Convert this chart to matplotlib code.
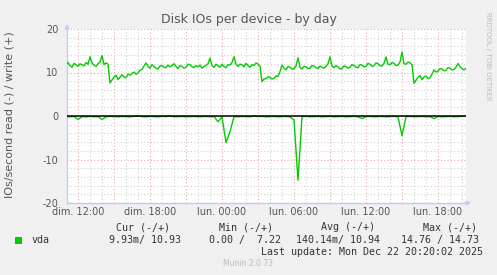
import numpy as np
import matplotlib

matplotlib.use("Agg")

import matplotlib.pyplot as plt

# hours since Sunday 00:00; writes every 10 min, reads every 20 min
SAMPLE_START = 11.0
WRITE_STEP = 1 / 6
READ_STEP = 1 / 3

writes = [
    11.9, 12.3, 11.6, 11.2, 12.1, 11.8, 11.4, 12.0, 11.8, 11.5, 12.3, 11.9, 13.6, 12.2, 11.7, 11.4, 12.0, 12.4, 13.9, 11.8,
    12.2, 11.9, 7.6, 8.3, 8.9, 9.4, 8.4, 8.9, 9.5, 9.0, 8.8, 9.6, 9.4, 9.8, 10.1, 9.6, 9.9, 10.5, 10.7, 11.5,
    12.2, 11.4, 11.0, 11.8, 11.4, 11.0, 10.8, 11.5, 11.6, 11.2, 11.1, 11.7, 11.3, 11.6, 12.0, 11.4, 10.9, 11.6, 11.4, 11.0,
    11.2, 11.9, 11.8, 11.3, 11.1, 11.6, 11.3, 11.7, 11.0, 11.4, 11.6, 12.0, 13.3, 11.6, 11.2, 11.9, 11.5, 11.2, 11.9, 11.4,
    11.1, 11.8, 11.7, 12.3, 13.6, 11.9, 11.4, 11.9, 11.8, 11.3, 12.1, 11.6, 11.2, 11.8, 11.6, 12.2, 11.9, 11.5, 7.9, 8.5,
    8.6, 9.0, 8.9, 8.5, 8.7, 9.2, 9.1, 10.2, 11.7, 11.0, 10.6, 11.4, 11.2, 10.8, 10.9, 11.5, 13.4, 11.2, 10.8, 11.4,
    11.3, 10.9, 11.0, 11.6, 11.5, 11.1, 10.9, 11.5, 11.2, 11.0, 11.4, 12.0, 13.6, 11.5, 11.1, 11.6, 11.3, 10.8, 10.9, 11.5,
    11.4, 11.0, 11.2, 11.8, 11.6, 11.2, 11.1, 11.8, 11.7, 11.3, 11.4, 12.1, 11.9, 11.4, 11.6, 12.2, 12.0, 11.6, 11.5, 12.1,
    13.6, 11.9, 11.8, 12.3, 12.1, 11.6, 11.7, 12.4, 14.7, 12.0, 11.9, 12.4, 12.2, 11.8, 7.5, 8.2, 8.9, 9.3, 8.4, 9.0,
    9.2, 8.6, 8.8, 9.6, 10.6, 10.1, 10.3, 10.9, 10.8, 10.4, 10.5, 11.1, 11.0, 10.6, 10.7, 11.2, 12.1, 11.3, 10.9, 10.6,
    10.93,
]

reads = [
    0.15, 0.2, 0.1, 0.8, 0.15, 0.2, 0.1, 0.2, 0.15, 0.8,
    0.2, 0.1, 0.15, 0.2, 0.1, 0.15, 0.2, 0.1, 0.0, 0.15,
    0.2, 0.1, 0.15, 0.2, 0.1, 0.15, 0.0, 0.2, 0.15, 0.1,
    0.2, 0.15, 0.1, 0.2, 0.15, 0.1, 0.2, 0.15, 1.3, 0.2,
    6.1, 3.6, 0.15, 0.2, 0.1, 0.15, 0.2, 0.0, 0.15, 0.1,
    0.2, 0.15, 0.1, 0.2, 0.15, 0.1, 0.2, 0.9, 14.76, 0.15,
    0.1, 0.2, 0.15, 0.1, 0.2, 0.15, 0.1, 0.2, 0.15, 0.1,
    0.2, 0.15, 0.1, 0.2, 0.6, 0.15, 0.1, 0.2, 0.15, 0.1,
    0.2, 0.15, 0.1, 0.2, 4.5, 0.15, 0.1, 0.2, 0.15, 0.1,
    0.2, 0.15, 0.6, 0.1, 0.2, 0.15, 0.1, 0.2, 0.15, 0.1,
    0.01,
]

tick_hours = [12, 18, 24, 30, 36, 42]
tick_labels = ["dim. 12:00", "dim. 18:00", "lun. 00:00", "lun. 06:00", "lun. 12:00", "lun. 18:00"]
y_ticks = [-20, -10, 0, 10, 20]

legend_headers = ["Cur (-/+)", "Min (-/+)", "Avg (-/+)", "Max (-/+)"]
legend_values = ["9.93m/ 10.93", "0.00 /  7.22", "140.14m/ 10.94", "14.76 / 14.73"]

W, H = 497, 275
GREEN = "#00CC00"
TEXT = "#555555"
AXIS = "#C8C8F0"

write_times = SAMPLE_START + WRITE_STEP * np.arange(len(writes))
read_times = SAMPLE_START + READ_STEP * np.arange(len(reads))

fig = plt.figure(figsize=(W / 100, H / 100), dpi=100, facecolor="#F0F0F0")
ax = fig.add_axes([67 / W, 1 - 203 / H, (466 - 67) / W, (203 - 29) / H])
ax.set_facecolor("white")

ax.set_xlim(11 + 5 / 60, 44 + 20 / 60)
ax.set_ylim(-20, 20)

# grid: minor every hour / 2 units, major every 3 hours / 10 units
for h in np.arange(12, 45, 1):
    major = h % 3 == 0
    ax.axvline(h, color="#E6AAAA" if major else "#CFCFCF", lw=0.8,
               linestyle=(0, (1, 2)), zorder=1)
for v in range(-20, 21, 2):
    major = v % 10 == 0
    ax.axhline(v, color="#E6AAAA" if major else "#CFCFCF", lw=0.8,
               linestyle=(0, (1, 2)), zorder=1)

ax.plot(read_times, -np.array(reads), color=GREEN, lw=1.0, zorder=3)
ax.axhline(0, color="black", lw=1.1, zorder=4)
ax.plot(write_times, writes, color=GREEN, lw=1.0, zorder=3)

for side in ["top", "right"]:
    ax.spines[side].set_visible(False)
for side in ["left", "bottom"]:
    ax.spines[side].set_color(AXIS)
    ax.spines[side].set_linewidth(1.0)
ax.annotate("", xy=(0, 1.045), xytext=(0, 0.98), xycoords="axes fraction",
            arrowprops=dict(arrowstyle="-|>", color=AXIS, lw=1.0,
                            mutation_scale=6), annotation_clip=False)
ax.annotate("", xy=(1.02, 0), xytext=(0.99, 0), xycoords="axes fraction",
            arrowprops=dict(arrowstyle="-|>", color=AXIS, lw=1.0,
                            mutation_scale=6), annotation_clip=False)

ax.set_xticks(tick_hours)
ax.set_xticklabels(tick_labels)
ax.set_yticks(y_ticks)
ax.set_yticklabels([str(v) for v in y_ticks])
ax.tick_params(axis="both", length=0, labelsize=7, labelcolor=TEXT)
ax.tick_params(axis="y", pad=6)
ax.tick_params(axis="x", pad=3)

fig.text(10 / W, 1 - 115 / H, "IOs/second read (-) / write (+)", rotation=90,
         ha="center", va="center", fontsize=8, color=TEXT)
fig.text(249 / W, 1 - 19 / H, "Disk IOs per device - by day", ha="center",
         va="center", fontsize=9, color=TEXT)
fig.text(488 / W, 1 - 12 / H, "RRDTOOL / TOBI OETIKER", rotation=270,
         ha="center", va="top", fontsize=5, color="#BBBBBB")

# legend block
mono = dict(family="DejaVu Sans Mono", fontsize=7.2, color="#333333", va="center")
fig.patches.append(plt.Rectangle((15 / W, 1 - 243 / H), 6 / W, 6 / H,
                                 transform=fig.transFigure, facecolor=GREEN,
                                 edgecolor="#009900", lw=0.5))
fig.text(32 / W, 1 - 240 / H, "vda", **mono)
header_x = [116, 219, 321, 423]
value_x = [109, 209, 296, 401]
for hx, text in zip(header_x, legend_headers):
    fig.text(hx / W, 1 - 227 / H, text, **mono)
for vx, text in zip(value_x, legend_values):
    fig.text(vx / W, 1 - 240 / H, text, **mono)
fig.text(483 / W, 1 - 252 / H, "Last update: Mon Dec 22 20:20:02 2025",
         **{**mono, "ha": "right"})
fig.text(248 / W, 1 - 264 / H, "Munin 2.0.73", ha="center", va="center",
         fontsize=5.5, color="#BBBBBB")

fig.savefig("out.png", dpi=100, facecolor=fig.get_facecolor())
